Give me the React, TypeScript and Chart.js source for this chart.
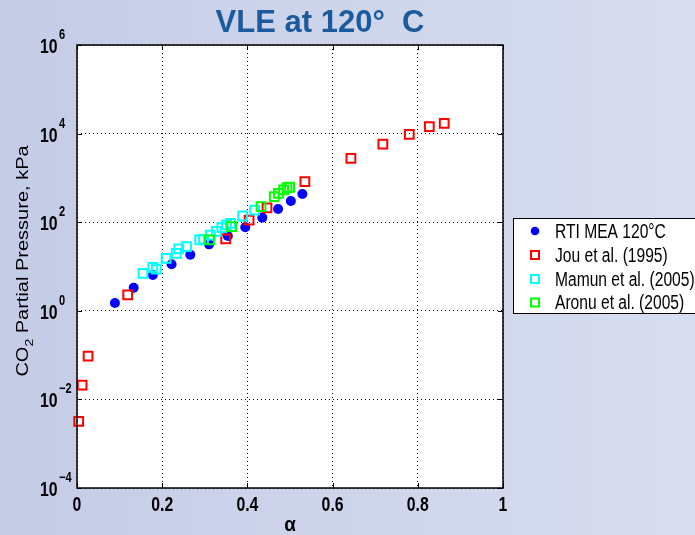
import React, { useEffect, useRef } from "react";
import { Chart, registerables } from "chart.js";

Chart.register(...registerables);

// ---------- data ----------
const chartTitle = "VLE at 120°  C";
const xAxisLabel = "α";
const yAxisLabelMain = "CO";
const yAxisLabelSub = "2";
const yAxisLabelRest = " Partial Pressure, kPa";

const xTickValues = [0, 0.2, 0.4, 0.6, 0.8, 1];
const xTickLabels = ["0", "0.2", "0.4", "0.6", "0.8", "1"];
const yTickExponents = [-4, -2, 0, 2, 4, 6];

const seriesNames = ["RTI MEA 120°C", "Jou et al. (1995)", "Mamun et al. (2005)", "Aronu et al. (2005)"];
const seriesColors = ["#0000ff", "#ff0000", "#00ffff", "#00ff00"];

const rtiAlpha = [0.089, 0.133, 0.178, 0.222, 0.266, 0.31, 0.354, 0.395, 0.435, 0.472, 0.502, 0.529];
const rtiP = [1.5, 3.3, 6.4, 11.2, 18.5, 31.6, 49, 77, 127, 198, 302, 433];

const jouAlpha = [0.004, 0.012, 0.026, 0.119, 0.349, 0.404, 0.446, 0.535, 0.643, 0.718, 0.78, 0.827, 0.862];
const jouP = [0.0032, 0.021, 0.095, 2.3, 42, 112, 210, 820, 2770, 5820, 9600, 14300, 17000];

const mamunAlpha = [0.155, 0.178, 0.186, 0.209, 0.233, 0.239, 0.257, 0.288, 0.297, 0.313, 0.327, 0.34, 0.351, 0.36, 0.389, 0.417];
const mamunP = [7.0, 9.6, 8.7, 15.3, 19.8, 25, 28, 40, 41, 51, 62, 75, 87, 94, 138, 188];

const aronuAlpha = [0.311, 0.363, 0.432, 0.463, 0.473, 0.485, 0.493, 0.499];
const aronuP = [40, 79, 224, 376, 447, 537, 604, 615];

// ---------- styling ----------
const SANS = "'Liberation Sans', Arial, sans-serif";
const SQ = 0.79; // horizontal squeeze of the pasted figure's text

const toPoints = (xs: number[], ys: number[]) => xs.map((x, i) => ({ x, y: ys[i] }));

function squeezedText(ctx: CanvasRenderingContext2D, text: string, x: number, y: number, sx = SQ) {
  ctx.save();
  ctx.translate(x, y);
  ctx.scale(sx, 1);
  ctx.fillText(text, 0, 0);
  ctx.restore();
}

const decorPlugin = {
  id: "decor",
  beforeDraw(chart: any) {
    const { ctx, chartArea: a } = chart;
    ctx.save();
    ctx.fillStyle = "#ffffff";
    ctx.fillRect(a.left, a.top, a.right - a.left, a.bottom - a.top);
    ctx.restore();
  },
  afterDraw(chart: any) {
    const { ctx, chartArea: a, scales } = chart;
    const xs = scales.x;
    const ys = scales.y;
    ctx.save();
    // frame
    ctx.strokeStyle = "#000";
    ctx.lineWidth = 1.5;
    ctx.strokeRect(a.left, a.top, a.right - a.left, a.bottom - a.top);
    // inner ticks
    ctx.lineWidth = 1;
    ctx.beginPath();
    const tl = 5;
    xTickValues.forEach((v) => {
      const px = Math.round(xs.getPixelForValue(v)) + 0.5;
      ctx.moveTo(px, a.top);
      ctx.lineTo(px, a.top + tl);
      ctx.moveTo(px, a.bottom);
      ctx.lineTo(px, a.bottom - tl);
    });
    yTickExponents.forEach((e) => {
      const py = Math.round(ys.getPixelForValue(Math.pow(10, e))) + 0.5;
      ctx.moveTo(a.left, py);
      ctx.lineTo(a.left + tl, py);
      ctx.moveTo(a.right, py);
      ctx.lineTo(a.right - tl, py);
    });
    ctx.stroke();

    // x tick labels
    ctx.fillStyle = "#000";
    ctx.font = `bold 20px ${SANS}`;
    ctx.textAlign = "center";
    ctx.textBaseline = "alphabetic";
    xTickValues.forEach((v, i) => {
      squeezedText(ctx, xTickLabels[i], xs.getPixelForValue(v), 511);
    });

    // x axis title
    ctx.font = `bold 21px ${SANS}`;
    squeezedText(ctx, xAxisLabel, xs.getPixelForValue(0.5), 531, 0.9);

    // y tick labels 10^n
    ctx.textAlign = "left";
    yTickExponents.forEach((e) => {
      const py = ys.getPixelForValue(Math.pow(10, e));
      ctx.font = `bold 20px ${SANS}`;
      squeezedText(ctx, "10", 40, py + 8);
      const w = ctx.measureText("10").width * SQ;
      ctx.font = `bold 14px ${SANS}`;
      const expText = e < 0 ? "\u2212" + String(-e) : String(e);
      squeezedText(ctx, expText, 40 + w + 1.5, py - 6);
    });

    // y axis title (rotated)
    ctx.save();
    ctx.translate(28, 261);
    ctx.rotate(-Math.PI / 2);
    ctx.scale(1, 0.82);
    ctx.font = `20px ${SANS}`;
    const wMain = ctx.measureText(yAxisLabelMain).width;
    ctx.font = `14px ${SANS}`;
    const wSub = ctx.measureText(yAxisLabelSub).width;
    ctx.font = `20px ${SANS}`;
    const wRest = ctx.measureText(yAxisLabelRest).width;
    const total = wMain + wSub + wRest;
    let cx = -total / 2;
    ctx.textAlign = "left";
    ctx.fillText(yAxisLabelMain, cx, 0);
    cx += wMain;
    ctx.font = `14px ${SANS}`;
    ctx.fillText(yAxisLabelSub, cx, 6);
    cx += wSub;
    ctx.font = `20px ${SANS}`;
    ctx.fillText(yAxisLabelRest, cx, 0);
    ctx.restore();

    // main title
    ctx.font = `bold 31px ${SANS}`;
    ctx.fillStyle = "#1b5b9d";
    ctx.textAlign = "center";
    ctx.textBaseline = "middle";
    ctx.fillText(chartTitle, 320, 23);

    // legend
    const lx = 513;
    const ly = 218;
    ctx.fillStyle = "#ffffff";
    ctx.fillRect(lx, ly, 200, 95);
    ctx.strokeStyle = "#000";
    ctx.lineWidth = 1;
    ctx.strokeRect(lx + 0.5, ly + 0.5, 200, 95);
    const rows = [231, 255, 279, 302.5];
    ctx.font = `20px ${SANS}`;
    ctx.textAlign = "left";
    ctx.textBaseline = "middle";
    seriesNames.forEach((name, i) => {
      const ry = rows[i];
      if (i === 0) {
        ctx.fillStyle = seriesColors[0];
        ctx.beginPath();
        ctx.arc(535, ry, 4.3, 0, Math.PI * 2);
        ctx.fill();
      } else {
        ctx.strokeStyle = seriesColors[i];
        ctx.lineWidth = 2;
        ctx.strokeRect(531, ry - 4, 8, 8);
      }
      ctx.fillStyle = "#000";
      squeezedText(ctx, name, 555, ry + 1, 0.78);
    });
    ctx.restore();
  },
};

export default function App() {
  const canvasRef = useRef<HTMLCanvasElement | null>(null);

  useEffect(() => {
    const canvas = canvasRef.current;
    if (!canvas) return;

    const squareDs = (i: number, xs: number[], ys: number[], order: number) => ({
      label: seriesNames[i],
      data: toPoints(xs, ys),
      pointStyle: "rect",
      pointRadius: 6.2,
      pointBorderWidth: 2,
      pointBorderColor: seriesColors[i],
      pointBackgroundColor: "rgba(0,0,0,0)",
      borderColor: seriesColors[i],
      backgroundColor: "rgba(0,0,0,0)",
      showLine: false,
      clip: false,
      order,
    });

    const chart = new Chart(canvas, {
      type: "scatter",
      data: {
        datasets: [
          {
            label: seriesNames[0],
            data: toPoints(rtiAlpha, rtiP),
            pointStyle: "circle",
            pointRadius: 5,
            pointBorderWidth: 0,
            pointBackgroundColor: seriesColors[0],
            backgroundColor: seriesColors[0],
            borderColor: seriesColors[0],
            showLine: false,
            clip: false,
            order: 4,
          },
          squareDs(1, jouAlpha, jouP, 3),
          squareDs(2, mamunAlpha, mamunP, 2),
          squareDs(3, aronuAlpha, aronuP, 1),
        ],
      } as any,
      options: {
        responsive: false,
        animation: false,
        devicePixelRatio: 1,
        layout: { padding: { top: 45, right: 192, bottom: 0, left: 0 } },
        plugins: {
          legend: { display: false },
          title: { display: false },
          tooltip: { enabled: false },
        },
        scales: {
          x: {
            type: "linear",
            min: 0,
            max: 1,
            afterBuildTicks: (scale: any) => {
              scale.ticks = xTickValues.map((v) => ({ value: v }));
            },
            afterFit: (scale: any) => {
              scale.height = 47;
            },
            ticks: { display: false },
            grid: { color: "#000", lineWidth: 1, drawTicks: false },
            border: { display: false, dash: [1, 3] },
            title: { display: false },
          },
          y: {
            type: "logarithmic",
            min: 1e-4,
            max: 1e6,
            afterBuildTicks: (scale: any) => {
              scale.ticks = yTickExponents.map((e) => ({ value: Math.pow(10, e) }));
            },
            afterFit: (scale: any) => {
              scale.width = 77;
            },
            ticks: { display: false },
            grid: { color: "#000", lineWidth: 1, drawTicks: false },
            border: { display: false, dash: [1, 3] },
          },
        },
      } as any,
      plugins: [decorPlugin],
    });

    return () => chart.destroy();
  }, []);

  return (
    <div
      style={{
        position: "absolute",
        left: 0,
        top: 0,
        width: 695,
        height: 535,
        background: "linear-gradient(90deg, #c4cce6 0%, #d0d7ec 60%, #d8ddef 100%)",
      }}
    >
      <canvas ref={canvasRef} width={695} height={535} style={{ display: "block" }} />
    </div>
  );
}
